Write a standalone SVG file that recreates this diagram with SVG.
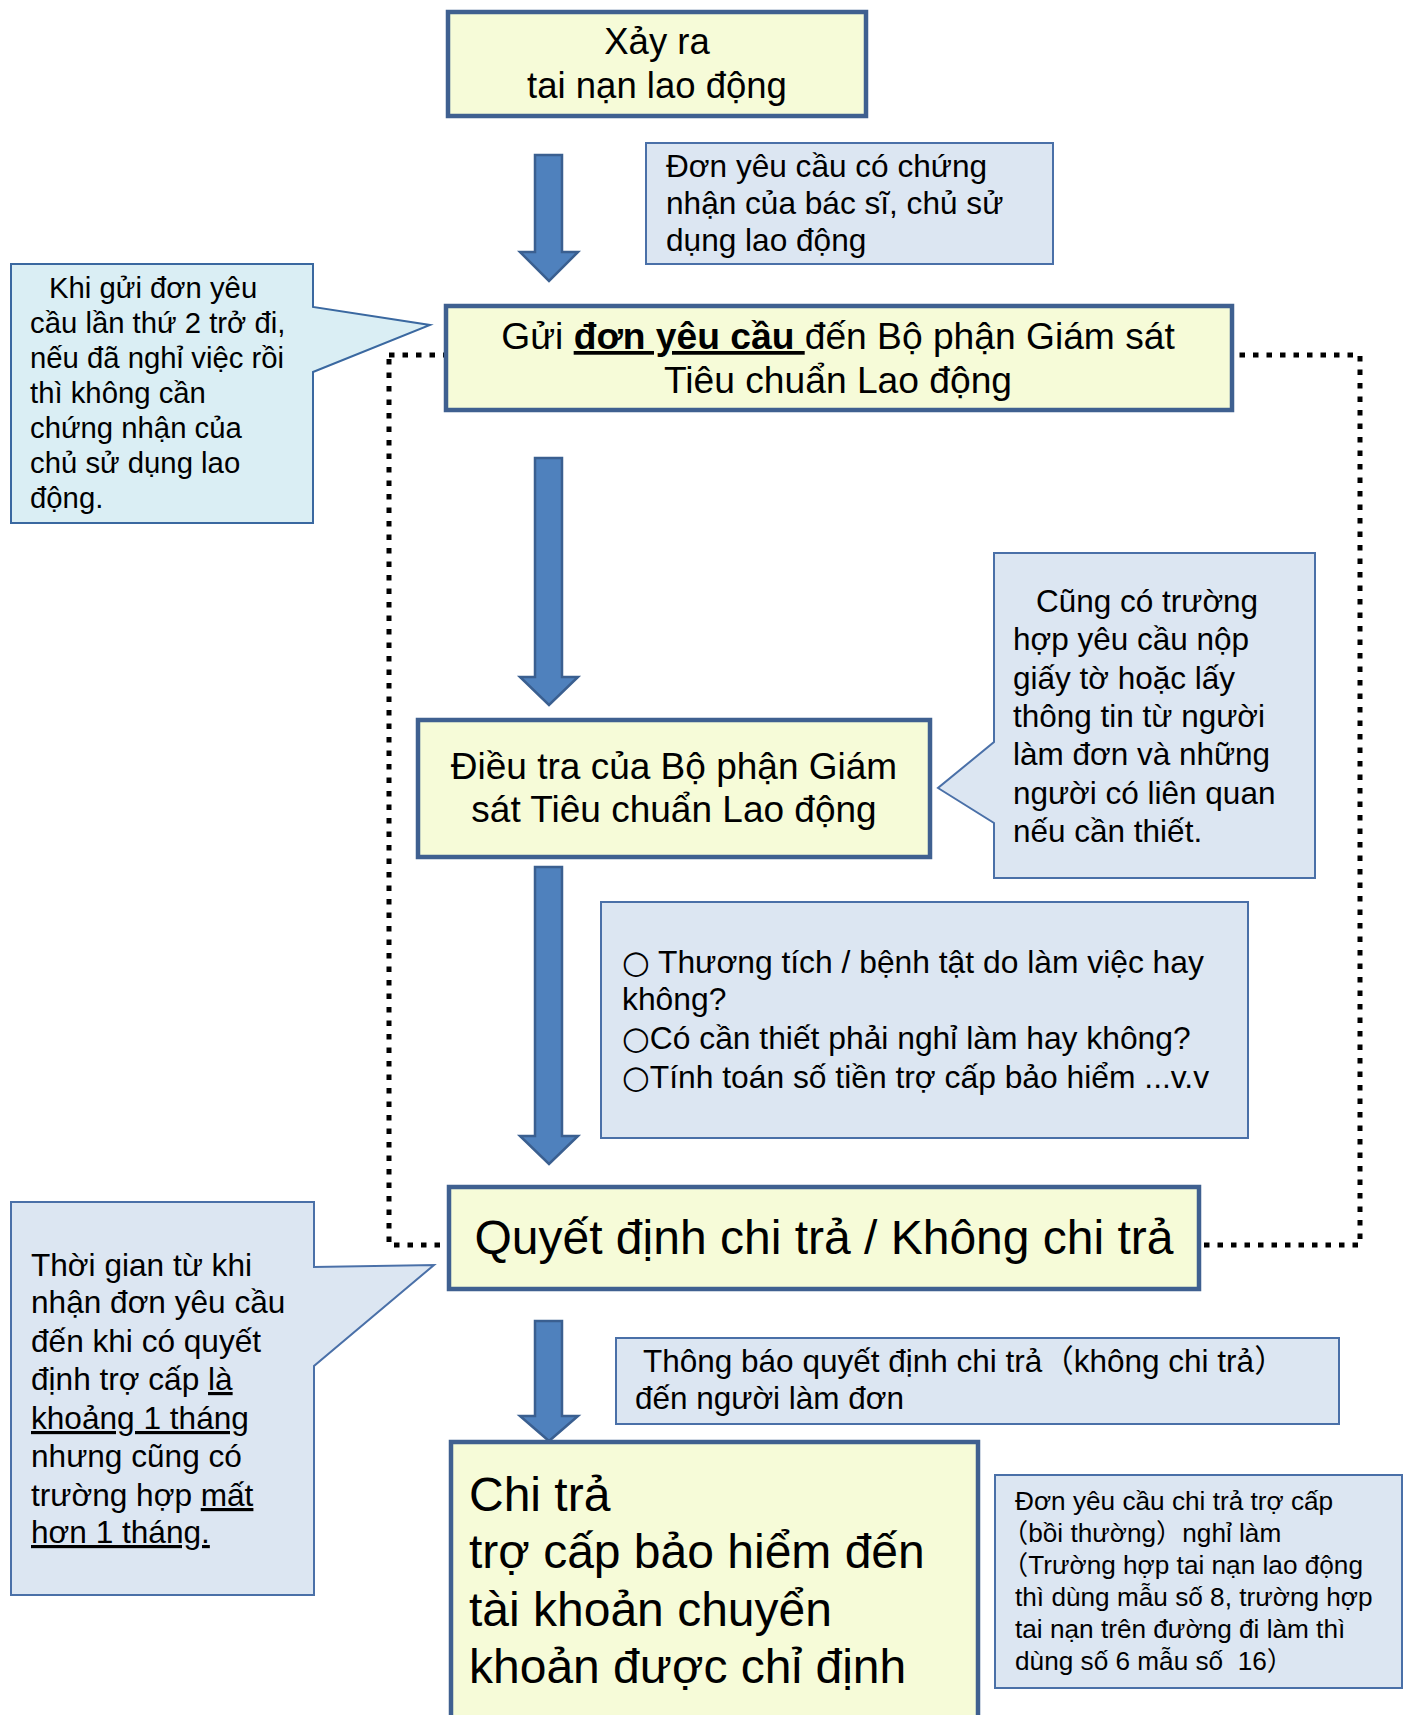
<svg xmlns="http://www.w3.org/2000/svg" width="1407" height="1715" viewBox="0 0 1407 1715">
<style>
text{font-family:"Liberation Sans","Noto Sans CJK JP",sans-serif;fill:#000}
.main{fill:#f6fbd8;stroke:#3f6090;stroke-width:4.5}
.note{fill:#dce6f2;stroke:#4a70a8;stroke-width:2}
.cyan{fill:#daeef4;stroke:#3a68a0;stroke-width:2}
.arrow{fill:#4f81bd;stroke:#3a5f90;stroke-width:2.5;stroke-linejoin:miter}
.dots{fill:none;stroke:#000;stroke-width:5;stroke-dasharray:5.5 8}
.c{text-anchor:middle}
.u{text-decoration:underline}
.b{font-weight:bold}
.circ{font-family:"DejaVu Sans",sans-serif}
</style>
<rect width="1407" height="1715" fill="#fff"/>
<g id="connectors">
<rect class="dots" x="389" y="355" width="971" height="890"/>
<polygon class="arrow" points="535,155 562,155 562,252 578,252 549,281 520,252 535,252"/>
<polygon class="arrow" points="535,458 562,458 562,677 578,677 549,705 520,677 535,677"/>
<polygon class="arrow" points="535,867 562,867 562,1136 578,1136 549,1164 520,1136 535,1136"/>
<polygon class="arrow" points="535,1321 562,1321 562,1416 578,1416 549,1441 520,1416 535,1416"/>
</g>
<g id="n-occur">
<rect class="main" x="448" y="12" width="418" height="104"/>
<text class="c" x="657" y="54" font-size="36.5">Xảy ra</text>
<text class="c" x="657" y="98" font-size="36.5">tai nạn lao động</text>
</g>
<g id="n-docs">
<rect class="note" x="646" y="143" width="407" height="121"/>
<text x="666" y="177" font-size="31.6">Đơn yêu cầu có chứng</text>
<text x="666" y="214" font-size="31.6">nhận của bác sĩ, chủ sử</text>
<text x="666" y="251" font-size="31.6">dụng lao động</text>
</g>
<g id="n-second">
<path class="cyan" d="M11,264 H313 V307 L430,325 L313,372 V523 H11 Z"/>
<text x="49" y="298" font-size="29.3">Khi gửi đơn yêu</text>
<text x="30" y="333" font-size="29.3">cầu lần thứ 2 trở đi,</text>
<text x="30" y="368" font-size="29.3">nếu đã nghỉ việc rồi</text>
<text x="30" y="403" font-size="29.3">thì không cần</text>
<text x="30" y="438" font-size="29.3">chứng nhận của</text>
<text x="30" y="473" font-size="29.3">chủ sử dụng lao</text>
<text x="30" y="508" font-size="29.3">động.</text>
</g>
<g id="n-submit">
<rect class="main" x="446" y="306" width="786" height="104"/>
<text class="c" x="838" y="349" font-size="37.2">Gửi <tspan class="b u">đơn yêu cầu </tspan>đến Bộ phận Giám sát</text>
<text class="c" x="838" y="393" font-size="37.2">Tiêu chuẩn Lao động</text>
</g>
<g id="n-investigate">
<rect class="main" x="418" y="720" width="512" height="137"/>
<text class="c" x="674" y="779" font-size="37">Điều tra của Bộ phận Giám</text>
<text class="c" x="674" y="822" font-size="37">sát Tiêu chuẩn Lao động</text>
</g>
<g id="n-also">
<path class="note" d="M994,553 H1315 V878 H994 V823 L938,788 L994,742 Z"/>
<text x="1036" y="612" font-size="31.5">Cũng có trường</text>
<text x="1013" y="650" font-size="31.5">hợp yêu cầu nộp</text>
<text x="1013" y="689" font-size="31.5">giấy tờ hoặc lấy</text>
<text x="1013" y="727" font-size="31.5">thông tin từ người</text>
<text x="1013" y="765" font-size="31.5">làm đơn và những</text>
<text x="1013" y="804" font-size="31.5">người có liên quan</text>
<text x="1013" y="842" font-size="31.5">nếu cần thiết.</text>
</g>
<g id="n-checks">
<rect class="note" x="601" y="902" width="647" height="236"/>
<text x="622" y="973" font-size="31.8"><tspan class="circ">○</tspan> Thương tích / bệnh tật do làm việc hay</text>
<text x="622" y="1010" font-size="31.8">không?</text>
<text x="622" y="1049" font-size="31.8"><tspan class="circ">○</tspan>Có cần thiết phải nghỉ làm hay không?</text>
<text x="622" y="1088" font-size="31.8"><tspan class="circ">○</tspan>Tính toán số tiền trợ cấp bảo hiểm ...v.v</text>
</g>
<g id="n-decide">
<rect class="main" x="449" y="1187" width="750" height="102"/>
<text class="c" x="824" y="1254" font-size="48">Quyết định chi trả / Không chi trả</text>
</g>
<g id="n-time">
<path class="note" d="M11,1202 H314 V1267 L434,1265 L314,1366 V1595 H11 Z"/>
<text x="31" y="1276" font-size="31.6">Thời gian từ khi</text>
<text x="31" y="1313" font-size="31.6">nhận đơn yêu cầu</text>
<text x="31" y="1352" font-size="31.6">đến khi có quyết</text>
<text x="31" y="1390" font-size="31.6">định trợ cấp <tspan class="u">là</tspan></text>
<text x="31" y="1429" font-size="31.6"><tspan class="u">khoảng 1 tháng</tspan></text>
<text x="31" y="1467" font-size="31.6">nhưng cũng có</text>
<text x="31" y="1506" font-size="31.6">trường hợp <tspan class="u">mất</tspan></text>
<text x="31" y="1543" font-size="31.6"><tspan class="u">hơn 1 tháng.</tspan></text>
</g>
<g id="n-notify">
<rect class="note" x="616" y="1338" width="723" height="86"/>
<text x="643" y="1372" font-size="31.5">Thông báo quyết định chi trả（không chi trả）</text>
<text x="635" y="1409" font-size="31.5">đến người làm đơn</text>
</g>
<g id="n-pay">
<rect class="main" x="451" y="1442" width="527" height="300"/>
<text x="469" y="1511" font-size="48">Chi trả</text>
<text x="469" y="1568" font-size="48">trợ cấp bảo hiểm đến</text>
<text x="469" y="1626" font-size="48">tài khoản chuyển</text>
<text x="469" y="1683" font-size="48">khoản được chỉ định</text>
</g>
<g id="n-form">
<rect class="note" x="995" y="1475" width="407" height="213"/>
<text x="1015" y="1510" font-size="26.2">Đơn yêu cầu chi trả trợ cấp</text>
<text x="1002" y="1542" font-size="26.2">（bồi thường）nghỉ làm</text>
<text x="1002" y="1574" font-size="26.2">（Trường hợp tai nạn lao động</text>
<text x="1015" y="1606" font-size="26.2">thì dùng mẫu số 8, trường hợp</text>
<text x="1015" y="1638" font-size="26.2">tai nạn trên đường đi làm thì</text>
<text x="1015" y="1670" font-size="26.2" xml:space="preserve">dùng số 6 mẫu số  16）</text>
</g>
</svg>
